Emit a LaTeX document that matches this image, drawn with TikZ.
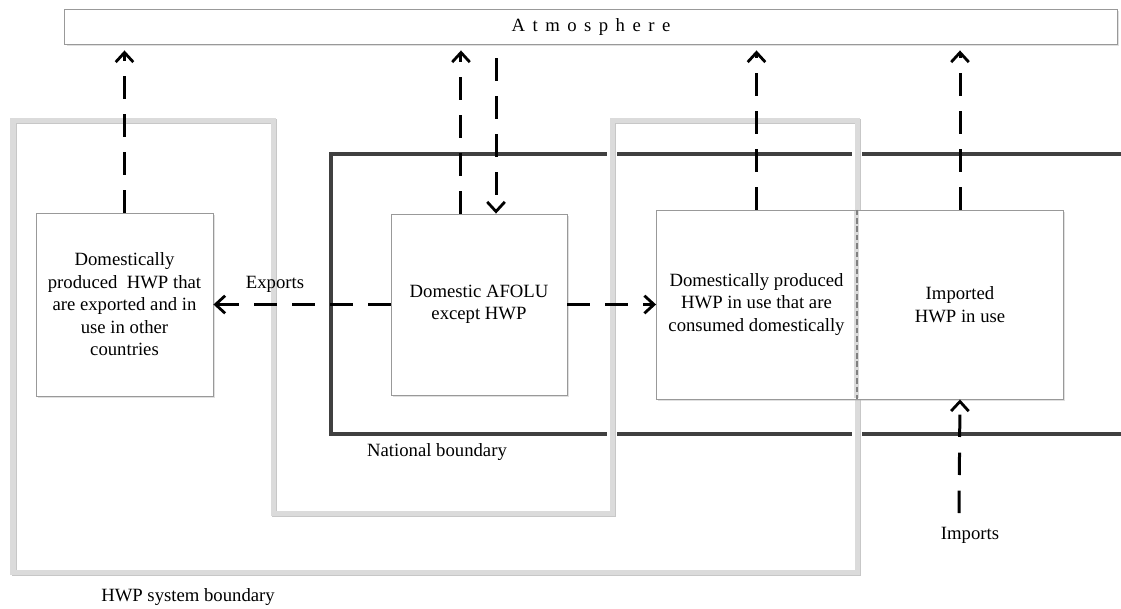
\documentclass[tikz,border=0pt]{standalone}
\usepackage{fontspec}
\setmainfont{Liberation Serif}
\usetikzlibrary{arrows.meta,shadows}

\tikzset{
  stock/.style={draw=black!40,line width=0.6pt,fill=white,align=center,inner sep=0pt,
    drop shadow={shadow xshift=0.05cm,shadow yshift=-0.05cm,fill=black!30,opacity=0.4}},
  flow/.style={->,line width=0.075cm,dash pattern=on 0.56cm off 0.39cm},
  natline/.style={draw=black!75,line width=0.115cm},
  haloline/.style={draw=white,line width=0.23cm},
  shadeline/.style={draw=black!22,line width=0.125cm,xshift=0.035cm,yshift=-0.035cm},
  sysline/.style={draw=black!14,line width=0.125cm},
  divline/.style={draw=black!50,line width=0.8pt,dash pattern=on 4pt off 2pt}
}

\begin{document}
\begin{tikzpicture}[x=0.025cm,y=-0.025cm,
    >={Straight Barb[length=0.24cm,width=0.44cm,line width=0.07cm]},
    font=\fontsize{13.3}{16}\selectfont]
    \useasboundingbox (0,0) rectangle (1121,608);

    % boundaries
    \draw[natline] (1125,154) -- (331,154) -- (331,434) -- (1125,434);
    \foreach \st in {haloline,shadeline,sysline}
      \draw[\st] (13,120) -- (273,120) -- (273,513) -- (612,513) -- (612,120)
        -- (857,120) -- (857,572) -- (13,572) -- cycle;

    % stocks
    \node[stock,minimum width=26.3cm,minimum height=0.875cm] (atm) at (591,26.5)
      {\addfontfeatures{LetterSpace=40}Atmosphere};
    \node[stock,minimum width=4.425cm,minimum height=4.575cm] (exp) at (124.5,304.5)
      {Domestically\\produced\ \ HWP that\\are exported and in\\use in other\\countries};
    \node[stock,minimum width=4.4cm,minimum height=4.525cm] (afolu) at (479,304.5)
      {Domestic AFOLU\\except HWP};
    \node[stock,minimum width=5cm,minimum height=4.725cm] (dom) at (756.5,304.5)
      {Domestically produced\\HWP in use that are\\consumed domestically};
    \node[stock,minimum width=5.15cm,minimum height=4.725cm] (imp) at (960,304.5)
      {Imported\\HWP in use};
    \draw[sysline] ([yshift=-1pt]dom.north east) -- ([yshift=1pt]dom.south east);
    \draw[divline] (dom.north east) -- (dom.south east);

    \coordinate (impsrc) at (959,513);

    % flows
    \path[flow]
    (exp.north) edge[shorten >=0.15cm] (exp.north |- atm.south)
    ([xshift=-0.45cm]afolu.north) edge[shorten >=0.15cm] ([xshift=-0.45cm]afolu.north |- atm.south)
    ([xshift=0.425cm]afolu.north |- atm.south) edge[shorten <=0.35cm] ([xshift=0.425cm]afolu.north)
    (dom.north) edge[shorten >=0.15cm] (dom.north |- atm.south)
    (imp.north) edge[shorten >=0.15cm] (imp.north |- atm.south)
    (afolu.west) edge (exp.east)
    (afolu.east) edge (dom.west)
    (impsrc) edge (imp.south)
    ;

    % labels
    \node (explabel) at (275,284) {Exports};
    \node (natlabel) at (437,452) {National boundary};
    \node (syslabel) at (188,597) {HWP system boundary};
    \node (implabel) at (970,535) {Imports};
\end{tikzpicture}
\end{document}
